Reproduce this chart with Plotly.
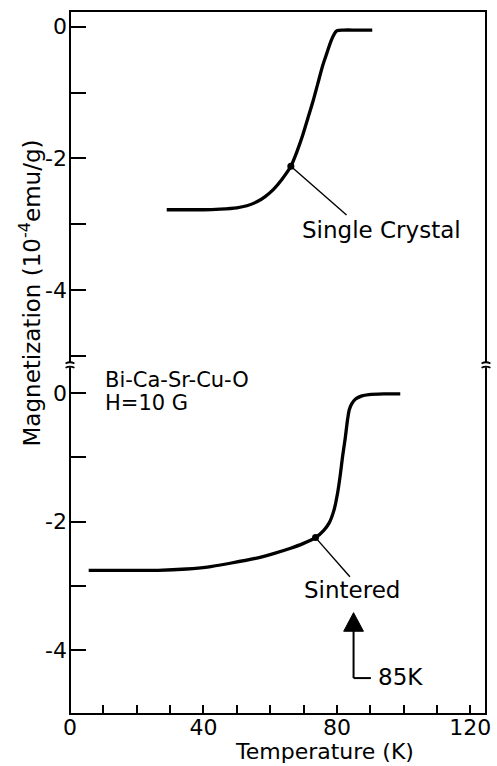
import plotly.graph_objects as go

# ---------------- data ----------------
temp_single = [29, 35, 40, 45, 50, 53, 56, 58.5, 61, 63.5, 66.2, 68, 69.8, 71.3, 72.8,
               74.3, 75.8, 77, 78.2, 79.2, 80.0, 82, 86, 90.6]
mag_single = [-2.78, -2.78, -2.78, -2.77, -2.75, -2.72, -2.66, -2.58, -2.47, -2.32, -2.12,
              -1.90, -1.64, -1.39, -1.14, -0.86, -0.58, -0.40, -0.22, -0.11, -0.06, -0.05,
              -0.05, -0.05]

temp_sint = [5.6, 15, 26.4, 35, 41.2, 48, 56, 61, 65.9, 70, 73.6, 76, 77.7, 79.2, 80.2,
             81, 81.7, 82.5, 83.2, 83.7, 84.4, 85.6, 87.5, 89.6, 94, 99]
mag_sint = [-2.76, -2.76, -2.76, -2.74, -2.71, -2.65, -2.57, -2.50, -2.42, -2.34, -2.25,
            -2.14, -2.02, -1.81, -1.56, -1.28, -0.99, -0.70, -0.41, -0.26, -0.17, -0.09,
            -0.04, -0.02, -0.01, -0.01]

single_point = (66.2, -2.12)
single_label_end = (82.9, -2.86)
sint_point = (73.6, -2.25)
sint_label_end = (83.9, -2.86)

tc_value = 85  # K, marked by the arrow

x_tickvals = [0, 40, 80, 120]
x_ticktext = ["0", "40", "80", "120"]
x_minor_vals = [10, 20, 30, 50, 60, 70, 90, 100, 110]
y_top_tickvals = [0, -2, -4]
y_top_ticktext = ["0", "-2", "-4"]
y_top_minor = [-1, -3, -5]
y_bot_tickvals = [0, -2, -4]
y_bot_ticktext = ["0", "-2", "-4"]
y_bot_minor = [-1, -3]

FONT = "DejaVu Sans"
BREAK = 0.4964  # paper fraction where the y axis is broken
PW, PH = 421.0, 703.0  # plot area size in px

fig = go.Figure()

# curves
fig.add_trace(go.Scatter(x=temp_single, y=mag_single, mode="lines", xaxis="x", yaxis="y",
                         line=dict(color="black", width=3.3, shape="spline", smoothing=0.8),
                         hoverinfo="skip"))
fig.add_trace(go.Scatter(x=temp_sint, y=mag_sint, mode="lines", xaxis="x", yaxis="y2",
                         line=dict(color="black", width=3.3, shape="spline", smoothing=0.6),
                         hoverinfo="skip"))
# leader lines + dots
fig.add_trace(go.Scatter(x=[single_point[0], single_label_end[0]],
                         y=[single_point[1], single_label_end[1]], mode="lines",
                         xaxis="x", yaxis="y", line=dict(color="black", width=1.4)))
fig.add_trace(go.Scatter(x=[sint_point[0], sint_label_end[0]],
                         y=[sint_point[1], sint_label_end[1]], mode="lines",
                         xaxis="x", yaxis="y2", line=dict(color="black", width=1.4)))
fig.add_trace(go.Scatter(x=[single_point[0]], y=[single_point[1]], mode="markers",
                         xaxis="x", yaxis="y", marker=dict(color="black", size=7)))
fig.add_trace(go.Scatter(x=[sint_point[0]], y=[sint_point[1]], mode="markers",
                         xaxis="x", yaxis="y2", marker=dict(color="black", size=7)))

tickfont = dict(family=FONT, size=22, color="black")
yminor = lambda vals: dict(tickvals=vals, ticks="inside", ticklen=16, tickwidth=2,
                           tickcolor="black", showgrid=False)
fig.update_layout(
    width=497, height=766,
    margin=dict(l=70, r=6, t=11, b=52),
    paper_bgcolor="white", plot_bgcolor="white",
    showlegend=False,
    font=dict(family=FONT, color="black"),
    xaxis=dict(domain=[0, 1], anchor="y2", range=[0, 124.7], showgrid=False, zeroline=False,
               showline=False, ticks="inside", ticklen=9, tickwidth=2, tickcolor="black",
               tickvals=x_tickvals, ticktext=x_ticktext, tickfont=tickfont,
               ticklabelstandoff=-2,
               minor=dict(tickvals=x_minor_vals, ticks="inside", ticklen=9, tickwidth=2,
                          tickcolor="black", showgrid=False)),
    yaxis=dict(domain=[BREAK, 1], anchor="x", range=[-5.14, 0.24], showgrid=False,
               zeroline=False, showline=False, ticks="inside", ticklen=16, tickwidth=2,
               tickcolor="black", tickvals=y_top_tickvals, ticktext=y_top_ticktext,
               tickfont=tickfont, ticklabelstandoff=2, minor=yminor(y_top_minor)),
    yaxis2=dict(domain=[0, BREAK], anchor="x", range=[-5.0, 0.44], showgrid=False,
                zeroline=False, showline=False, ticks="inside", ticklen=16, tickwidth=2,
                tickcolor="black", tickvals=y_bot_tickvals, ticktext=y_bot_ticktext,
                tickfont=tickfont, ticklabelstandoff=2, minor=yminor(y_bot_minor)),
)

shapes = []
# frame
shapes.append(dict(type="rect", xref="paper", yref="paper", x0=0, x1=1, y0=0, y1=1,
                   line=dict(color="black", width=2), layer="above"))
# axis breaks
gx, gy = 5 / PW, 2.2 / PH
for xb in (0, 1):
    shapes.append(dict(type="rect", xref="paper", yref="paper", x0=xb - gx, x1=xb + gx,
                       y0=BREAK - gy, y1=BREAK + gy, fillcolor="white",
                       line=dict(width=0), layer="above"))
    for dy in (-gy, gy):
        y0 = BREAK + dy
        shapes.append(dict(type="path", xref="paper", yref="paper",
                           path=f"M {xb - 4.5/PW},{y0 - 0.6/PH} Q {xb},{y0 + 1.8/PH} {xb + 4.5/PW},{y0 - 0.6/PH}",
                           line=dict(color="black", width=1.8), layer="above"))
# 85 K arrow
shapes.append(dict(type="line", xref="x", yref="y2", x0=tc_value, x1=tc_value,
                   y0=-4.44, y1=-3.68, line=dict(color="black", width=2)))
shapes.append(dict(type="line", xref="x", yref="y2", x0=tc_value, x1=tc_value + 5.2,
                   y0=-4.44, y1=-4.44, line=dict(color="black", width=2)))
shapes.append(dict(type="path", xref="x", yref="y2",
                   path=f"M {tc_value},-3.42 L {tc_value - 2.96},-3.71 L {tc_value + 2.96},-3.71 Z",
                   fillcolor="black", line=dict(color="black", width=1)))
fig.update_layout(shapes=shapes)

ann_font = dict(family=FONT, size=23, color="black")
sample_font = dict(family=FONT, size=21, color="black")
annotations = [
    dict(text="Single Crystal", x=93.3, y=-3.09, xref="x", yref="y", showarrow=False,
         xanchor="center", yanchor="middle", font=ann_font),
    dict(text="Sintered", x=84.4, y=-3.06, xref="x", yref="y2", showarrow=False,
         xanchor="center", yanchor="middle", font=ann_font),
    dict(text=f"{tc_value}K", x=91.8, y=-4.42, xref="x", yref="y2", showarrow=False,
         xanchor="left", yanchor="middle", font=ann_font),
    dict(text="Bi-Ca-Sr-Cu-O", x=(103 - 70) / PW, y=(714 - 380) / PH,
         xref="paper", yref="paper", showarrow=False,
         xanchor="left", yanchor="middle", font=sample_font),
    dict(text="H=10 G", x=(103 - 70) / PW, y=(714 - 403) / PH,
         xref="paper", yref="paper", showarrow=False,
         xanchor="left", yanchor="middle", font=sample_font),
    dict(text="Temperature (K)", x=(328 - 70) / PW, y=(714 - 751) / PH, xref="paper",
         yref="paper", showarrow=False, xanchor="center", yanchor="middle",
         font=dict(family=FONT, size=22, color="black")),
    dict(text="Magnetization (10<sup>-4</sup>emu/g)", x=(30 - 70) / PW, y=(714 - 293) / PH,
         xref="paper", yref="paper", showarrow=False, textangle=-90, xanchor="center",
         yanchor="middle", font=dict(family=FONT, size=23, color="black")),
]
fig.update_layout(annotations=annotations)

fig.write_html("out.html")
